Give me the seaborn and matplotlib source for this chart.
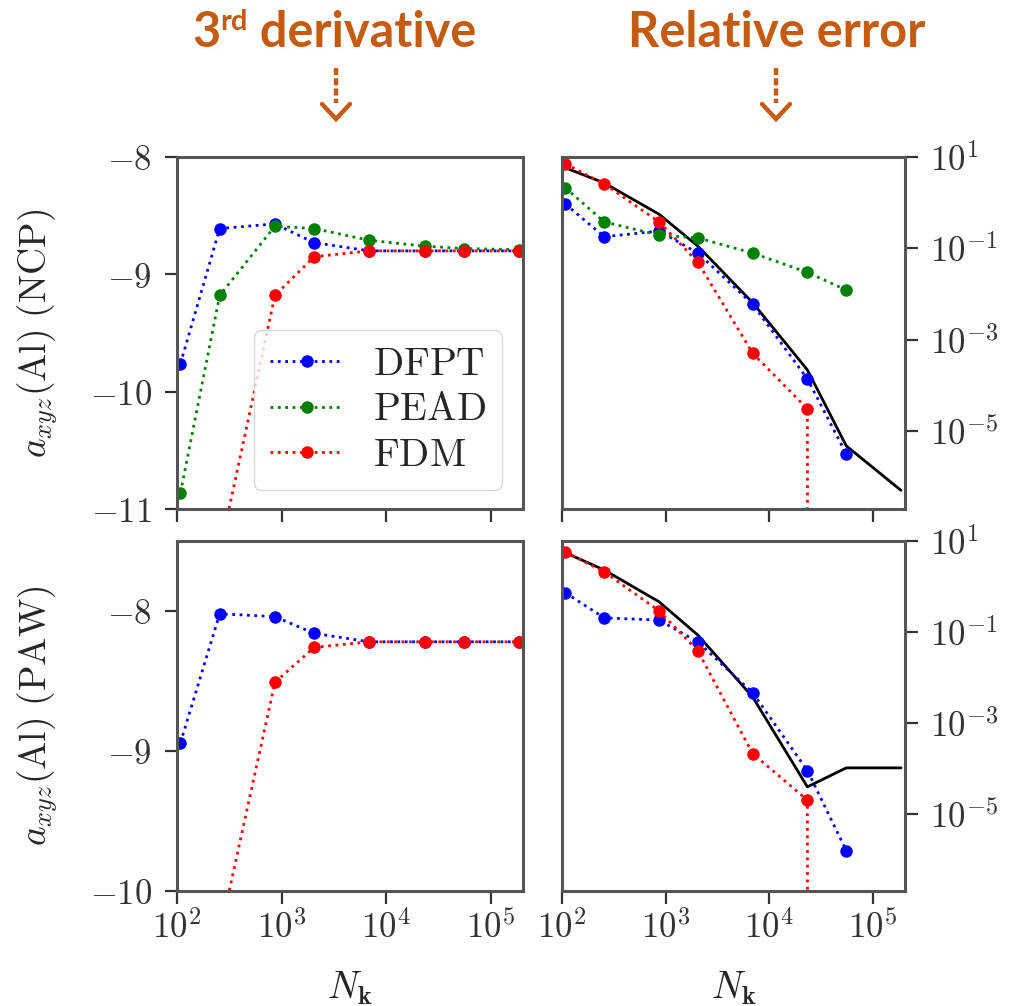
import numpy as np
import matplotlib
matplotlib.use("Agg")
import matplotlib.pyplot as plt
import seaborn as sns
from matplotlib.ticker import FuncFormatter, FixedLocator, NullLocator
from matplotlib.lines import Line2D

# ---------------- data ----------------
Nk = [108, 256, 864, 2048, 6912, 23328, 55296, 186624]

# 3rd derivative a_xyz(Al), NCP
ncp_dfpt = [-9.76, -8.61, -8.57, -8.73, -8.80, -8.80, -8.80, -8.80]
ncp_pead = [-10.86, -9.18, -8.59, -8.61, -8.71, -8.76, -8.78, -8.79]
ncp_fdm = [-15.9, -11.37, -9.18, -8.85, -8.80, -8.80, -8.80, -8.80]

# 3rd derivative a_xyz(Al), PAW
paw_dfpt = [-8.94, -8.02, -8.04, -8.16, -8.22, -8.22, -8.22, -8.22]
paw_fdm = [-13.97, -10.31, -8.51, -8.26, -8.22, -8.22, -8.22, -8.22]

# relative error, NCP
err_ncp_dfpt = [0.93, 0.18, 0.24, 0.079, 6.0e-3, 1.4e-4, 3.2e-6]
err_ncp_pead = [2.1, 0.38, 0.195, 0.17, 0.079, 0.030, 0.0123]
err_ncp_fdm = [7.1, 2.57, 0.38, 0.050, 5.1e-4, 3.1e-5, 0.0, 0.0]
err_ncp_est = [5.8, 2.7, 0.56, 0.112, 6.5e-3, 2.2e-4, 4.8e-6, 5.1e-7]

# relative error, PAW
err_paw_dfpt = [0.72, 0.204, 0.182, 0.060, 4.6e-3, 8.9e-5, 1.55e-6]
err_paw_fdm = [5.75, 2.09, 0.29, 0.038, 2.1e-4, 2.0e-5, 0.0, 0.0]
err_paw_est = [5.5, 2.3, 0.46, 0.085, 3.7e-3, 3.9e-5, 1.02e-4, 1.02e-4]

labels = {"DFPT": r"$\mathrm{DFPT}$", "PEAD": r"$\mathrm{PEAD}$", "FDM": r"$\mathrm{FDM}$"}
colors = {"DFPT": "#0000ff", "PEAD": "#008000", "FDM": "#ff0000"}

titles = ["3", "rd", " derivative"]
title2 = "Relative error"
title_color = "#C55A11"

# ---------------- style ----------------
sns.set_theme(style="ticks")
plt.rcParams.update({
    "font.family": ["DejaVu Serif"],
    "mathtext.fontset": "cm",
    "font.size": 25,
    "axes.edgecolor": "#555555",
    "axes.linewidth": 2.2,
    "xtick.color": "#333333",
    "ytick.color": "#333333",
    "axes.facecolor": "white",
    "figure.facecolor": "white",
})

W, H = 1028, 1006
fig = plt.figure(figsize=(W / 100, H / 100), dpi=100)


def add_ax(l, t, r, b):
    return fig.add_axes([l / W, 1 - b / H, (r - l) / W, (b - t) / H])


ax_tl = add_ax(177, 157, 523, 509)
ax_tr = add_ax(562, 157, 905, 509)
ax_bl = add_ax(177, 541, 523, 891)
ax_br = add_ax(562, 541, 905, 891)

logfmt = FuncFormatter(lambda v, p: r"$10^{%d}$" % int(round(np.log10(v))))
linfmt = FuncFormatter(lambda v, p: r"$%d$" % int(round(v)))

for ax in (ax_tl, ax_tr, ax_bl, ax_br):
    ax.set_xscale("log")
    ax.set_xlim(100, 2.04e5)
for ax in (ax_tr, ax_br):
    ax.set_yscale("log")
    ax.set_ylim(10 ** -6.7, 10)


def draw(ax, y, color, ls=":", marker="o", lw=2.0, label=None, z=2):
    sns.lineplot(x=Nk[:len(y)], y=y, ax=ax, color=color, linestyle=ls,
                 marker=marker, markersize=9, markeredgecolor=color,
                 markeredgewidth=0, lw=lw, label=label, legend=False,
                 estimator=None, sort=False, zorder=z)


# top-left
draw(ax_tl, ncp_dfpt, colors["DFPT"], label=labels["DFPT"])
draw(ax_tl, ncp_pead, colors["PEAD"], label=labels["PEAD"])
draw(ax_tl, ncp_fdm, colors["FDM"], label=labels["FDM"])
# bottom-left
draw(ax_bl, paw_dfpt, colors["DFPT"])
draw(ax_bl, paw_fdm, colors["FDM"])
# top-right
draw(ax_tr, err_ncp_est, "black", ls="-", marker=None, lw=2.0)
draw(ax_tr, err_ncp_dfpt, colors["DFPT"])
draw(ax_tr, err_ncp_pead, colors["PEAD"])
draw(ax_tr, err_ncp_fdm, colors["FDM"])
# bottom-right
draw(ax_br, err_paw_est, "black", ls="-", marker=None, lw=2.0)
draw(ax_br, err_paw_dfpt, colors["DFPT"])
draw(ax_br, err_paw_fdm, colors["FDM"])

ax_tl.set_ylim(-11, -8)
ax_bl.set_ylim(-10, -7.5)
ax_tl.yaxis.set_major_locator(FixedLocator([-8, -9, -10, -11]))
ax_bl.yaxis.set_major_locator(FixedLocator([-8, -9, -10]))
for ax in (ax_tl, ax_bl):
    ax.yaxis.set_major_formatter(linfmt)
    ax.yaxis.set_minor_locator(NullLocator())

for ax in (ax_tr, ax_br):
    ax.yaxis.tick_right()
    ax.yaxis.set_major_locator(FixedLocator([1e1, 1e-1, 1e-3, 1e-5]))
    ax.yaxis.set_major_formatter(logfmt)
    ax.yaxis.set_minor_locator(NullLocator())

for ax in (ax_tl, ax_tr, ax_bl, ax_br):
    ax.xaxis.set_major_locator(FixedLocator([1e2, 1e3, 1e4, 1e5]))
    ax.xaxis.set_major_formatter(logfmt)
    ax.xaxis.set_minor_locator(NullLocator())
    ax.tick_params(axis="both", which="major", direction="out", length=9,
                   width=1.6, labelsize=25)
    ax.tick_params(axis="y", pad=9)
    ax.tick_params(axis="x", pad=5)
    for s in ax.spines.values():
        s.set_visible(True)
    ax.set_xlabel("")
    ax.set_ylabel("")

for ax in (ax_tl, ax_tr):
    ax.tick_params(axis="x", labelbottom=False)

ax_tl.set_ylabel(r"$a_{xyz}(\mathrm{Al})\ (\mathrm{NCP})$", fontsize=27)
ax_bl.set_ylabel(r"$a_{xyz}(\mathrm{Al})\ (\mathrm{PAW})$", fontsize=27)
ax_tl.yaxis.set_label_coords(-0.338, 0.5)
ax_bl.yaxis.set_label_coords(-0.338, 0.5)
for ax in (ax_bl, ax_br):
    ax.set_xlabel(r"$N_{\mathbf{k}}$", fontsize=27)
    ax.xaxis.set_label_coords(0.5, -0.225)

ax_tl.legend(loc="lower right", bbox_to_anchor=(0.94, 0.054),
             borderaxespad=0, fontsize=28.5, frameon=True, fancybox=True,
             framealpha=0.8, edgecolor="0.8", handlelength=1.85,
             handletextpad=0.75, labelspacing=0.22, borderpad=0.4)

# ---------------- titles & arrows ----------------
renderer = fig.canvas.get_renderer()


def draw_title(pieces, x_left, x_right, baseline, size0=36):
    def render(size):
        arts = []
        x = x_left
        for s, rel, rise in pieces:
            px = size * 100 / 72
            t = fig.text(x / W, 1 - (baseline - rise * px) / H, s,
                         fontsize=size * rel, fontweight="bold",
                         family=["Lato", "DejaVu Sans"], color=title_color,
                         ha="left", va="baseline")
            bb = t.get_window_extent(renderer)
            x = bb.x1
            arts.append(t)
        return arts, x - x_left
    arts, w = render(size0)
    for a in arts:
        a.remove()
    render(size0 * (x_right - x_left) / w)


draw_title([(titles[0], 1, 0), (titles[1], 0.6, 0.34), (titles[2], 1, 0)], 192, 476, 47)
draw_title([(title2, 1, 0)], 628, 925, 47)


def arrow(xc):
    fig.add_artist(Line2D([xc / W, xc / W], [1 - 68 / H, 1 - 103 / H],
                          transform=fig.transFigure, color=title_color, lw=3.2,
                          dashes=(1.6, 0.7), dash_capstyle="butt"))
    fig.add_artist(Line2D([(xc - 14) / W, xc / W, (xc + 14) / W],
                          [1 - 104 / H, 1 - 119 / H, 1 - 104 / H],
                          transform=fig.transFigure, color=title_color, lw=3.2,
                          solid_joinstyle="miter"))


arrow(336)
arrow(776)

fig.savefig("out.png", dpi=100)
